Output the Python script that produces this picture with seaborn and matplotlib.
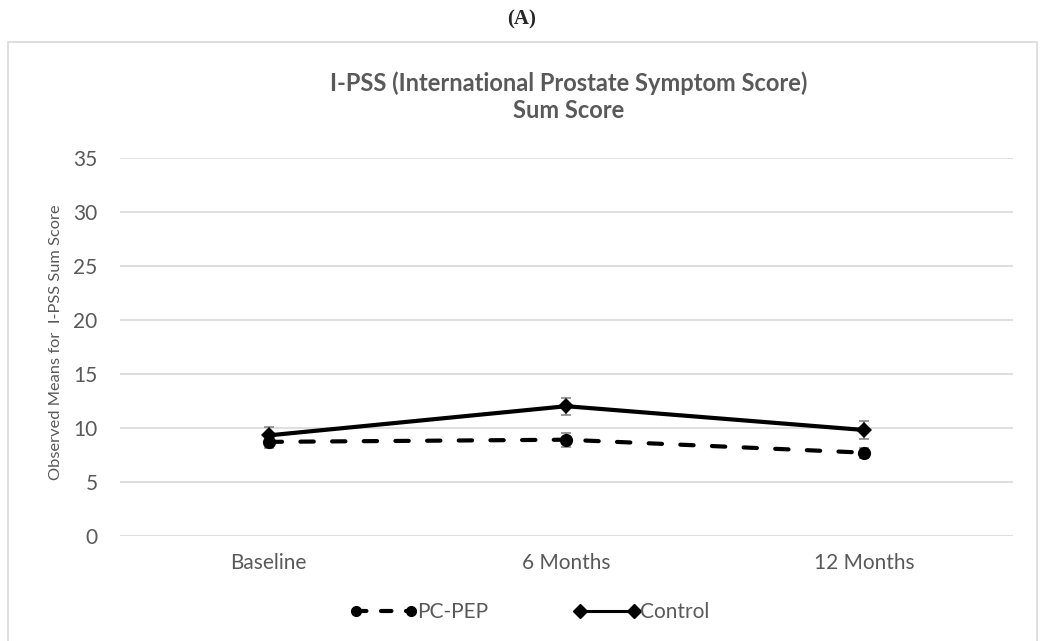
import matplotlib
matplotlib.use("Agg")
import matplotlib.pyplot as plt
from matplotlib.lines import Line2D
from matplotlib.patches import Rectangle
import seaborn as sns
import pandas as pd
import numpy as np

# data
timepoints = ["Baseline", "6 Months", "12 Months"]
pcpep_mean = [8.7, 8.9, 7.7]
pcpep_err = [0.6, 0.65, 0.45]
control_mean = [9.3, 12.0, 9.8]
control_err = [0.75, 0.8, 0.85]
y_ticks = [0, 5, 10, 15, 20, 25, 30, 35]

sns.set_theme(style="white")
plt.rcParams['font.family'] = ['Lato', 'DejaVu Sans']

df = pd.DataFrame({
    'x': list(range(len(timepoints))) * 2,
    'score': pcpep_mean + control_mean,
    'group': ['PC-PEP'] * 3 + ['Control'] * 3,
})

fig = plt.figure(figsize=(10.43, 6.41), dpi=100)
ax = fig.add_axes([0.115, 0.164, 0.856, 0.590])

# outer chart frame
fig.patches.append(Rectangle((8 / 1043, -0.05), 1029 / 1043, 599 / 641 + 0.05,
                             transform=fig.transFigure, fill=False,
                             edgecolor='#d9d9d9', linewidth=1.2, zorder=0))
fig.text(0.5, 0.970, '(A)', ha='center', va='center', fontsize=15,
         fontweight='bold', family=['Liberation Serif', 'DejaVu Serif'])

# error bars first so markers sit on top
xs = np.arange(len(timepoints))
for m, e in [(pcpep_mean, pcpep_err), (control_mean, control_err)]:
    ax.errorbar(xs, m, yerr=e, fmt='none', ecolor='#7f7f7f',
                elinewidth=1.1, capsize=3.5, capthick=1.1, zorder=2)

sns.lineplot(data=df[df['group'] == 'PC-PEP'], x='x', y='score', ax=ax,
             color='black', linewidth=3, marker='o', markersize=9.5,
             markeredgewidth=0, zorder=3, legend=False)
sns.lineplot(data=df[df['group'] == 'Control'], x='x', y='score', ax=ax,
             color='black', linewidth=3, marker='D', markersize=8,
             markeredgewidth=0, zorder=3, legend=False)

pc_line = ax.get_lines()[-2]
pc_line.set_dashes((3.2, 4.4))
pc_line.set_dash_capstyle('round')

ax.set_xlim(-0.5, 2.5)
ax.set_ylim(0, 35)
ax.set_xticks(xs)
ax.set_xticklabels(timepoints)
ax.set_yticks(y_ticks)
ax.tick_params(axis='both', labelsize=15, colors='#595959', length=0)
ax.tick_params(axis='y', pad=16)
ax.tick_params(axis='x', pad=12)
ax.grid(axis='y', color='#d9d9d9', linewidth=1.2)
ax.set_axisbelow(True)
for s in ax.spines.values():
    s.set_visible(False)
ax.set_xlabel('')
ax.set_ylabel('Observed Means for  I-PSS Sum Score', fontsize=11.8,
              color='#595959')
ax.yaxis.set_label_coords(-0.064, 0.512)

fig.text(0.545, 0.849, 'I-PSS (International Prostate Symptom Score)\nSum Score',
         ha='center', va='center', fontsize=17, fontweight='bold',
         color='#595959', linespacing=1.2)

# legend with smaller markers, like the original
h_pc = Line2D([], [], color='black', lw=3, marker='o', markersize=7,
              dashes=(2.5, 3.5), dash_capstyle='round')
h_ct = Line2D([], [], color='black', lw=2.2, marker='D', markersize=7.5)
leg = ax.legend([h_pc, h_ct], ['PC-PEP', 'Control'], loc='center',
                bbox_to_anchor=(0.508, 0.045), bbox_transform=fig.transFigure,
                ncol=2, frameon=False, numpoints=2, handlelength=3.2,
                handletextpad=0.0, columnspacing=4.1, fontsize=15)
for t in leg.get_texts():
    t.set_color('#595959')

fig.savefig('out.png', dpi=100)
